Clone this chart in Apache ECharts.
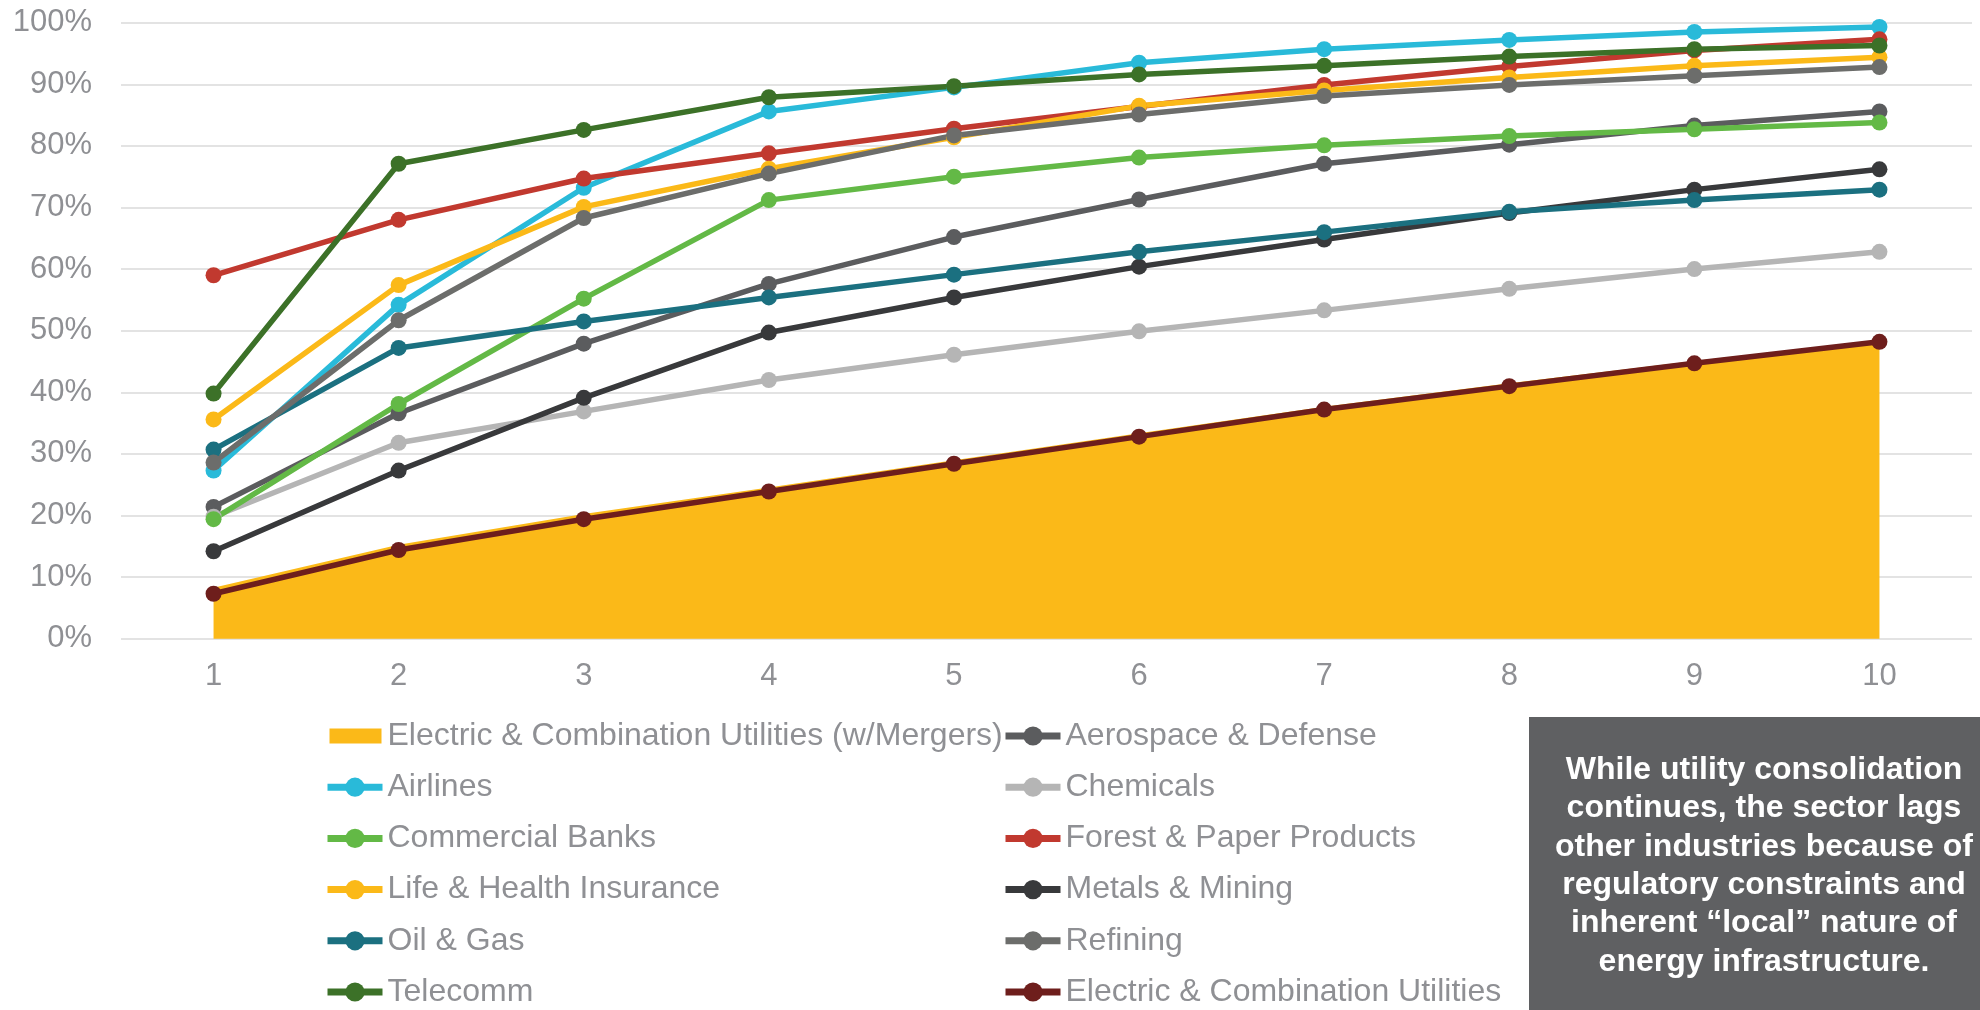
<!DOCTYPE html>
<html>
<head>
<meta charset="utf-8">
<script src="https://cdn.jsdelivr.net/npm/echarts@6/dist/echarts.min.js"></script>
<style>
  html, body { margin: 0; padding: 0; background: #ffffff; }
  #chart { width: 1980px; height: 1010px; }
</style>
</head>
<body>
<div id="chart"></div>
<script>
// Share of industry held by the top N companies (N = 1..10), in percent
const categories = ['1', '2', '3', '4', '5', '6', '7', '8', '9', '10'];

const utilitiesWithMergers = [8.1, 15.1, 20.1, 24.4, 28.8, 33.2, 37.5, 41.3, 44.9, 48.3];
const aerospace = [21.4, 36.6, 47.9, 57.6, 65.2, 71.3, 77.1, 80.2, 83.3, 85.6];
const airlines = [27.3, 54.2, 73.2, 85.6, 89.5, 93.5, 95.7, 97.2, 98.5, 99.3];
const chemicals = [19.8, 31.8, 36.9, 42.0, 46.1, 49.9, 53.3, 56.8, 60.0, 62.8];
const commercialBanks = [19.4, 38.1, 55.2, 71.2, 75.0, 78.1, 80.1, 81.6, 82.7, 83.8];
const forestPaper = [59.0, 68.0, 74.7, 78.8, 82.8, 86.4, 89.9, 92.9, 95.5, 97.3];
const lifeHealth = [35.6, 57.4, 70.1, 76.3, 81.4, 86.5, 89.0, 91.1, 93.0, 94.4];
const metalsMining = [14.2, 27.3, 39.1, 49.7, 55.4, 60.4, 64.8, 69.1, 72.9, 76.2];
const oilGas = [30.7, 47.2, 51.5, 55.4, 59.1, 62.8, 66.0, 69.3, 71.2, 72.9];
const refining = [28.6, 51.7, 68.3, 75.5, 81.7, 85.1, 88.1, 89.9, 91.4, 92.8];
const telecomm = [39.8, 77.1, 82.6, 87.9, 89.7, 91.6, 93.0, 94.5, 95.7, 96.3];
const utilities = [7.3, 14.4, 19.4, 23.9, 28.4, 32.8, 37.2, 41.0, 44.7, 48.2];

const yTicks = { min: 0, max: 100, step: 10 };

const FONT = 'Arial, "Liberation Sans", Helvetica, sans-serif';
const TEXT_GREY = '#8f9094';
const YELLOW = '#fbb918';

const lineDefs = [
  { name: 'Aerospace & Defense', data: aerospace, color: '#5b5c5e' },
  { name: 'Airlines', data: airlines, color: '#29bad9' },
  { name: 'Chemicals', data: chemicals, color: '#b5b5b5' },
  { name: 'Commercial Banks', data: commercialBanks, color: '#63b946' },
  { name: 'Forest & Paper Products', data: forestPaper, color: '#c1392f' },
  { name: 'Life & Health Insurance', data: lifeHealth, color: YELLOW },
  { name: 'Metals & Mining', data: metalsMining, color: '#38393b' },
  { name: 'Oil & Gas', data: oilGas, color: '#1b7080' },
  { name: 'Refining', data: refining, color: '#6c6d6b' },
  { name: 'Telecomm', data: telecomm, color: '#3c7128' },
  { name: 'Electric & Combination Utilities', data: utilities, color: '#6e1e1c' }
];

const areaName = 'Electric & Combination Utilities (w/Mergers)';

const series = [
  {
    name: areaName,
    type: 'line',
    data: utilitiesWithMergers,
    symbol: 'none',
    lineStyle: { color: YELLOW, width: 2 },
    itemStyle: { color: YELLOW },
    areaStyle: { color: YELLOW, opacity: 1 },
    silent: true
  }
].concat(lineDefs.map(d => ({
  name: d.name,
  type: 'line',
  data: d.data,
  symbol: 'circle',
  symbolSize: 16,
  lineStyle: { color: d.color, width: 5.5 },
  itemStyle: { color: d.color },
  emphasis: { disabled: true }
})));

const legendCommon = {
  orient: 'vertical',
  padding: 0,
  top: 720,
  height: 300,
  itemWidth: 55,
  itemHeight: 24,
  itemGap: 19.2,
  selectedMode: false,
  lineStyle: { width: 7 },
  textStyle: { color: TEXT_GREY, fontSize: 32, fontFamily: FONT, lineHeight: 30 }
};

const option = {
  animation: false,
  backgroundColor: '#ffffff',
  grid: { left: 121, right: 8, top: 22.7, bottom: 371.3, containLabel: false },
  xAxis: {
    type: 'category',
    data: categories,
    boundaryGap: true,
    axisLine: { show: false },
    axisTick: { show: false },
    axisLabel: { color: TEXT_GREY, fontSize: 31, fontFamily: FONT, margin: 22 }
  },
  yAxis: {
    type: 'value',
    min: yTicks.min,
    max: yTicks.max,
    interval: yTicks.step,
    axisLine: { show: false },
    axisTick: { show: false },
    axisLabel: { color: TEXT_GREY, fontSize: 31, fontFamily: FONT, margin: 29, formatter: '{value}%' },
    splitLine: { lineStyle: { color: '#e3e3e3', width: 2 } }
  },
  legend: [
    Object.assign({}, legendCommon, {
      left: 324,
      data: [
        { name: areaName, icon: 'path://M0,0 M2,4.5 L54,4.5 L54,19.5 L2,19.5 Z M55,24', itemStyle: { color: YELLOW } },
        'Airlines', 'Commercial Banks', 'Life & Health Insurance', 'Oil & Gas', 'Telecomm'
      ]
    }),
    Object.assign({}, legendCommon, {
      left: 1002,
      data: ['Aerospace & Defense', 'Chemicals', 'Forest & Paper Products', 'Metals & Mining', 'Refining', 'Electric & Combination Utilities']
    })
  ],
  graphic: [
    {
      type: 'group',
      left: 1529,
      top: 717,
      children: [
        { type: 'rect', shape: { x: 0, y: 0, width: 470, height: 300 }, style: { fill: '#5f6062' } },
        {
          type: 'text',
          x: 235,
          y: 149,
          style: {
            text: 'While utility consolidation\ncontinues, the sector lags\nother industries because of\nregulatory constraints and\ninherent \u201clocal\u201d nature of\nenergy infrastructure.',
            fill: '#ffffff',
            font: 'bold 32px ' + FONT,
            lineHeight: 38.4,
            align: 'center',
            verticalAlign: 'middle'
          }
        }
      ]
    }
  ],
  series: series
};

const chart = echarts.init(document.getElementById('chart'), null, { renderer: 'canvas' });
chart.setOption(option);
</script>
</body>
</html>
